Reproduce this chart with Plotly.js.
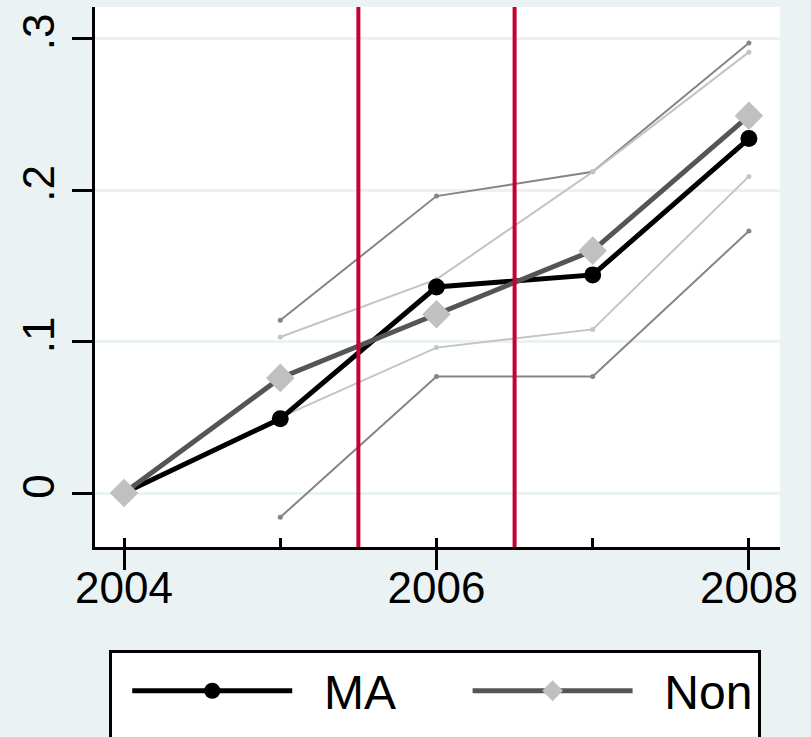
<!DOCTYPE html>
<html>
<head>
<meta charset="utf-8">
<script src="https://cdn.plot.ly/plotly-3.0.1.min.js"></script>
<style>html,body{margin:0;padding:0;background:#EAF2F3;}#chart{width:811px;height:737px;}</style>
</head>
<body>
<div id="chart"></div>
<script>
const years = [2004, 2005, 2006, 2007, 2008];
const maValues = [0, 0.049, 0.136, 0.144, 0.234];
const nonValues = [0, 0.076, 0.118, 0.160, 0.249];
const ciYears = [2005, 2006, 2007, 2008];
const maUpper = [0.114, 0.196, 0.212, 0.297];
const maLower = [-0.016, 0.077, 0.077, 0.173];
const nonUpper = [0.103, 0.141, 0.212, 0.291];
const nonLower = [0.050, 0.096, 0.108, 0.209];
const eventLines = [2005.5, 2006.5];
const seriesNames = ['MA', 'Non'];
const xTickVals = [2004, 2006, 2008];
const xTickText = ['2004', '2006', '2008'];
const yTickVals = [0, 0.1, 0.2, 0.3];
const yTickText = ['0', '.1', '.2', '.3'];

const BG = '#EAF2F3';
const NB = '\u00A0';
function ci(y, color) {
  return {x: ciYears, y: y, type: 'scatter', mode: 'lines+markers', showlegend: false,
    line: {color: color, width: 2}, marker: {color: color, size: 5}, hoverinfo: 'skip'};
}
const traces = [
  ci(maUpper, '#858585'), ci(maLower, '#858585'),
  ci(nonUpper, '#C4C4C4'), ci(nonLower, '#C4C4C4'),
  {x: years, y: maValues, name: NB + NB + seriesNames[0] + NB.repeat(5) + '<br>' + NB, type: 'scatter', mode: 'lines+markers',
   line: {color: '#000000', width: 5}, marker: {color: '#000000', size: 17, symbol: 'circle'}},
  {x: years, y: nonValues, name: NB + NB + seriesNames[1] + '<br>' + NB, type: 'scatter', mode: 'lines+markers',
   line: {color: '#555555', width: 5}, marker: {color: '#C0C0C0', size: 22, symbol: 'diamond'}},
  {x: years, y: years.map(() => null), xaxis: 'x2', showlegend: false, hoverinfo: 'skip', mode: 'lines'}
];
const shapes = eventLines.map(v => ({type: 'line', xref: 'x', yref: 'paper', x0: v, x1: v, y0: 0, y1: 1,
  line: {color: '#C8002F', width: 4}, layer: 'above'}));
const layout = {
  width: 811, height: 737,
  paper_bgcolor: BG, plot_bgcolor: '#FFFFFF',
  margin: {l: 95, r: 31, t: 7, b: 190},
  font: {family: 'Liberation Sans, Arial, sans-serif', color: '#000000'},
  xaxis: {range: [2003.814, 2008.199], tickvals: xTickVals, ticktext: xTickText,
    ticks: 'outside', ticklen: 20, tickwidth: 3, tickcolor: '#000', ticklabelstandoff: -20,
    showline: true, linecolor: '#000', linewidth: 3, showgrid: false, zeroline: false,
    tickfont: {size: 44}},
  xaxis2: {overlaying: 'x', matches: 'x', anchor: 'y', side: 'bottom', tickvals: years, showticklabels: false,
    ticks: 'inside', ticklen: 9, tickwidth: 3, tickcolor: '#000', showline: false, showgrid: false, zeroline: false},
  yaxis: {range: [-0.0356, 0.3208], tickvals: yTickVals, ticktext: yTickText, tickangle: -90,
    ticks: 'outside', ticklen: 20, tickwidth: 3, tickcolor: '#000',
    showline: true, linecolor: '#000', linewidth: 3,
    showgrid: true, gridcolor: BG, gridwidth: 3, zeroline: false,
    tickfont: {size: 44}},
  shapes: shapes,
  showlegend: true,
  legend: {orientation: 'h', xref: 'container', yref: 'container', x: 0.134, y: 0.118,
    xanchor: 'left', yanchor: 'top', bgcolor: '#FFFFFF', bordercolor: '#000', borderwidth: 3,
    font: {size: 48}, itemwidth: 160, valign: 'top', traceorder: 'normal',
    title: {text: NB, side: 'left', font: {size: 20}}}
};
Plotly.newPlot('chart', traces, layout, {displayModeBar: false, staticPlot: true});
</script>
</body>
</html>
